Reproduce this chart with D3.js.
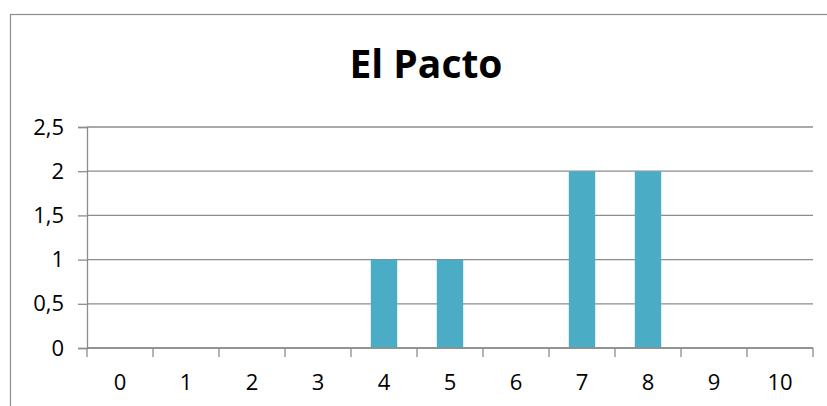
<!DOCTYPE html>
<html>
<head>
<meta charset="utf-8">
<script src="https://cdnjs.cloudflare.com/ajax/libs/d3/7.8.5/d3.min.js"></script>
<style>
  body { margin: 0; background: #fff; }
  text { font-family: "Open Sans", "Liberation Sans", sans-serif; fill: #000; }
</style>
</head>
<body>
<div id="chart"></div>
<script>
// Chart data
const categories = ['0', '1', '2', '3', '4', '5', '6', '7', '8', '9', '10'];
const counts = [0, 0, 0, 0, 1, 1, 0, 2, 2, 0, 0];
const yTicks = [0, 0.5, 1, 1.5, 2, 2.5];
const chartTitle = 'El Pacto';

const width = 827;
const height = 406;
const margin = { top: 127, right: 14, bottom: 58, left: 87 };

const svg = d3.select('#chart')
    .append('svg')
    .attr('width', width)
    .attr('height', height);

// Outer chart frame (runs off the right and bottom edge)
svg.append('rect')
    .attr('x', 10.5)
    .attr('y', 14.5)
    .attr('width', 840)
    .attr('height', 420)
    .attr('fill', 'none')
    .attr('stroke', '#8c8c8c')
    .attr('stroke-width', 1.2);

const x = d3.scaleBand()
    .domain(categories)
    .range([margin.left, width - margin.right])
    .paddingInner(0.6)
    .paddingOuter(0.3);

const xEdges = d3.scaleLinear()
    .domain([0, categories.length])
    .range([margin.left, width - margin.right]);

const y = d3.scaleLinear()
    .domain([0, 2.5])
    .range([height - margin.bottom, margin.top]);

// Gridlines
svg.append('g')
    .selectAll('line')
    .data(yTicks)
    .enter()
    .append('line')
    .attr('x1', margin.left)
    .attr('x2', width - margin.right)
    .attr('y1', d => y(d))
    .attr('y2', d => y(d))
    .attr('stroke', '#8c8c8c')
    .attr('stroke-width', 1.3);

// Bars
svg.append('g')
    .selectAll('rect')
    .data(categories)
    .enter()
    .filter((d, i) => counts[i] > 0)
    .append('rect')
    .attr('x', d => x(d))
    .attr('width', x.bandwidth())
    .attr('y', d => y(counts[categories.indexOf(d)]))
    .attr('height', d => y(0) - y(counts[categories.indexOf(d)]))
    .attr('fill', '#4bacc6');

// Y axis
const yAxis = svg.append('g')
    .attr('transform', `translate(${margin.left},0)`)
    .call(d3.axisLeft(y)
        .tickValues(yTicks)
        .tickSize(9)
        .tickPadding(14)
        .tickFormat(d => String(d).replace('.', ',')));
yAxis.select('.domain').attr('stroke', '#8c8c8c').attr('stroke-width', 1.3);
yAxis.selectAll('.tick line').attr('stroke', '#8c8c8c').attr('stroke-width', 1.3);
yAxis.selectAll('.tick text').attr('font-size', '22px').attr('font-family', '"Open Sans", sans-serif');

// X axis: tick marks on category boundaries, labels centred in bands
const xAxis = svg.append('g')
    .attr('transform', `translate(0,${y(0)})`);
xAxis.append('line')
    .attr('x1', margin.left)
    .attr('x2', width - margin.right)
    .attr('stroke', '#8c8c8c')
    .attr('stroke-width', 1.3);
xAxis.selectAll('.xtick')
    .data(d3.range(categories.length + 1))
    .enter()
    .append('line')
    .attr('x1', d => xEdges(d))
    .attr('x2', d => xEdges(d))
    .attr('y1', 0)
    .attr('y2', 9)
    .attr('stroke', '#8c8c8c')
    .attr('stroke-width', 1.3);
xAxis.selectAll('.xlabel')
    .data(categories)
    .enter()
    .append('text')
    .attr('x', d => x(d) + x.bandwidth() / 2)
    .attr('y', 42)
    .attr('text-anchor', 'middle')
    .attr('font-size', '22px')
    .text(d => d);

// Title
svg.append('text')
    .attr('x', 426)
    .attr('y', 78)
    .attr('text-anchor', 'middle')
    .attr('font-size', '39px')
    .attr('font-weight', 'bold')
    .text(chartTitle);
</script>
</body>
</html>
